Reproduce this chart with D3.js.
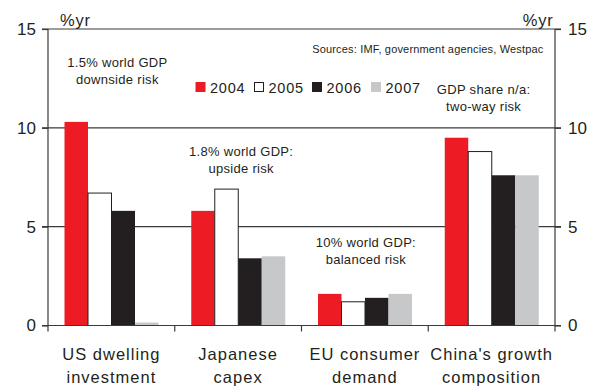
<!DOCTYPE html>
<html>
<head>
<meta charset="utf-8">
<script src="https://cdn.jsdelivr.net/npm/d3@7"></script>
<style>
  html, body { margin: 0; padding: 0; background: #fff; }
  svg { display: block; font-family: "Liberation Sans", Arial, sans-serif; }
</style>
</head>
<body>
<svg id="chart" width="602" height="387"></svg>
<script>
// Growth risks by region, %yr
const categories = [["US dwelling", "investment"], ["Japanese", "capex"], ["EU consumer", "demand"], ["China's growth", "composition"]];
const years = ["2004", "2005", "2006", "2007"];
const values2004 = [10.3, 5.8, 1.6, 9.5];
const values2005 = [6.7, 6.9, 1.2, 8.8];
const values2006 = [5.8, 3.4, 1.4, 7.6];
const values2007 = [0.15, 3.5, 1.6, 7.6];
const yTicks = [0, 5, 10, 15];
const notes = [
  { lines: ["1.5% world GDP", "downside risk"], cat: 0, y: 13.1, dx: 6 },
  { lines: ["1.8% world GDP:", "upside risk"], cat: 1, y: 8.6, dx: 3 },
  { lines: ["10% world GDP:", "balanced risk"], cat: 2, y: 3.98, dx: 1 },
  { lines: ["GDP share n/a:", "two-way risk"], cat: 3, y: 11.72, dx: -8 }
];

const series = [values2004, values2005, values2006, values2007];
const fills = ["#ED1C24", "#FFFFFF", "#231F20", "#C7C8CA"];
const ink = "#231F20";
const lineCol = "#3a3a3a";

const svg = d3.select("#chart");
const margin = { left: 48, right: 47, top: 29, bottom: 61.5 };
const W = 602, H = 387;

const x0 = d3.scaleBand().domain(d3.range(categories.length))
  .range([margin.left, W - margin.right]).paddingInner(0).paddingOuter(0);
const x1 = d3.scaleBand().domain(d3.range(years.length))
  .range([16.5, 110.5]).padding(0);
const y = d3.scaleLinear().domain([0, 15]).range([H - margin.bottom, margin.top]);

// gridlines
svg.append("g").selectAll("line").data(yTicks.filter(d => d > 0)).join("line")
  .attr("x1", margin.left - 6).attr("x2", W - margin.right + 6)
  .attr("y1", d => y(d)).attr("y2", d => y(d))
  .attr("stroke", lineCol).attr("stroke-width", 1.2);

// bars
const groups = svg.append("g").selectAll("g").data(categories).join("g")
  .attr("transform", (d, i) => `translate(${x0(i)},0)`);
groups.selectAll("rect").data((d, i) => series.map((s, k) => ({ k, v: s[i] }))).join("rect")
  .attr("x", d => x1(d.k))
  .attr("width", x1.bandwidth())
  .attr("y", d => y(d.v))
  .attr("height", d => y(0) - y(d.v))
  .attr("fill", d => fills[d.k])
  .attr("stroke", d => d.k === 1 ? ink : "none")
  .attr("stroke-width", 1);

// axes
const yl = d3.axisLeft(y).tickValues(yTicks).tickSize(6).tickPadding(6);
const yr = d3.axisRight(y).tickValues(yTicks).tickSize(6).tickPadding(7);
function styleAxis(g) {
  g.selectAll("path, line").attr("stroke", lineCol).attr("stroke-width", 1.2);
  g.selectAll("text").attr("fill", ink).style("font-size", "17px");
  g.select(".domain").attr("d", `M0,${y(15)}V${y(0)}`);
}
svg.append("g").attr("transform", `translate(${margin.left},0)`).call(yl).call(styleAxis);
svg.append("g").attr("transform", `translate(${W - margin.right},0)`).call(yr).call(styleAxis);

// baseline and category ticks
svg.append("line").attr("x1", margin.left - 6).attr("x2", W - margin.right + 6)
  .attr("y1", y(0)).attr("y2", y(0)).attr("stroke", lineCol).attr("stroke-width", 1.2);
const bounds = d3.range(categories.length + 1).map(i => i < categories.length ? x0(i) : x0(i - 1) + x0.bandwidth());
svg.append("g").selectAll("line").data(bounds).join("line")
  .attr("x1", d => d).attr("x2", d => d)
  .attr("y1", y(0)).attr("y2", y(0) + 6)
  .attr("stroke", lineCol).attr("stroke-width", 1.2);

// category labels
const catText = svg.append("g").selectAll("text").data(categories).join("text")
  .attr("text-anchor", "middle").attr("fill", ink)
  .style("font-size", "16.5px").style("letter-spacing", "1px");
catText.selectAll("tspan").data((d, i) => d.map(l => ({ l, i }))).join("tspan")
  .attr("x", o => x0(o.i) + x0.bandwidth() / 2)
  .attr("y", (o, j) => 360 + j * 23)
  .text(o => o.l);

// unit labels
svg.append("text").attr("x", 60).attr("y", 26).attr("fill", ink)
  .style("font-size", "16.5px").style("letter-spacing", "0.8px").text("%yr");
svg.append("text").attr("x", 553.5).attr("y", 26).attr("text-anchor", "end").attr("fill", ink)
  .style("font-size", "16.5px").style("letter-spacing", "0.8px").text("%yr");

// source line
svg.append("text").attr("x", 543.5).attr("y", 53).attr("text-anchor", "end").attr("fill", ink)
  .style("font-size", "11px").style("letter-spacing", "0.17px").text("Sources: IMF, government agencies, Westpac");

// annotations
const noteG = svg.append("g").selectAll("text").data(notes).join("text")
  .attr("text-anchor", "middle").attr("fill", ink)
  .style("font-size", "13px").style("letter-spacing", "0.3px");
noteG.selectAll("tspan").data(d => d.lines.map((l, j) => ({ l, j, d }))).join("tspan")
  .attr("x", o => x0(o.d.cat) + x0.bandwidth() / 2 + o.d.dx)
  .attr("y", o => y(o.d.y) + o.j * 17.5)
  .text(o => o.l);

// legend
const legendX = [195.5, 254, 312, 371];
const leg = svg.append("g").selectAll("g").data(years).join("g")
  .attr("transform", (d, i) => `translate(${legendX[i]},82)`);
leg.append("rect")
  .attr("fill", (d, i) => fills[i])
  .attr("stroke", (d, i) => i === 1 ? ink : "none").attr("stroke-width", 1)
  .attr("x", (d, i) => i === 1 ? 0.5 : 0).attr("y", (d, i) => i === 1 ? 0.5 : 0)
  .attr("width", (d, i) => i === 1 ? 9 : 10).attr("height", (d, i) => i === 1 ? 9 : 10);
leg.append("text").attr("x", 14.5).attr("y", 10.5).attr("fill", ink)
  .style("font-size", "14.5px").style("letter-spacing", "0.8px").text(d => d);
</script>
</body>
</html>
